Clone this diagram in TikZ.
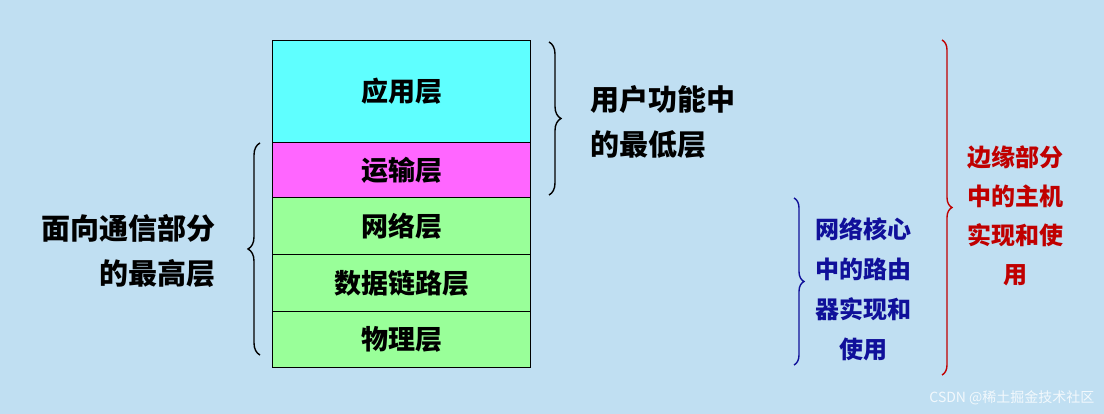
\documentclass[tikz,border=0pt]{standalone}
\usepackage{fontspec}
\setmainfont{Noto Sans CJK SC}
\usetikzlibrary{decorations.pathreplacing}
\definecolor{bg}{HTML}{C0DFF2}
\definecolor{cy}{HTML}{5FFFFF}
\definecolor{mg}{HTML}{FF66FF}
\definecolor{gr}{HTML}{99FF99}
\definecolor{db}{HTML}{10109A}
\definecolor{dr}{HTML}{C00000}
\begin{document}
\begin{tikzpicture}[x=1pt,y=-1pt,
  layer/.style={draw=black,line width=1pt,minimum width=258pt,anchor=north west,inner sep=0pt,font=\fontsize{27}{27}\selectfont\bfseries},
  lbl/.style={font=\fontsize{29}{45}\selectfont\bfseries,align=center,inner sep=0pt},
  br/.style={decorate,decoration={brace,amplitude=12pt},line width=1.4pt}]
\fill[bg] (0,0) rectangle (1104,414);
\useasboundingbox (0,0) rectangle (1104,414);
\node[layer,fill=cy,minimum height=102pt] (app) at (272,40) {应用层};
\node[layer,fill=mg,minimum height=55pt] (tr) at (272,142) {运输层};
\node[layer,fill=gr,minimum height=57pt] (net) at (272,197) {网络层};
\node[layer,fill=gr,minimum height=57pt] (dl) at (272,254) {数据链路层};
\node[layer,fill=gr,minimum height=56pt] (ph) at (272,311) {物理层};
\coordinate (r1) at (549,42); \coordinate (r2) at (549,195);
\draw[br] (r1) -- (r2);
\node[lbl,anchor=west,align=left] (t1) at (590,122) {用户功能中\\的最低层};
\coordinate (l1) at (260,355); \coordinate (l2) at (260,143);
\draw[br] (l1) -- (l2);
\node[lbl,anchor=east,align=right] (t2) at (216,251) {面向通信部分\\的最高层};
\coordinate (b1) at (794,198); \coordinate (b2) at (794,365);
\draw[br,draw=db,decoration={brace,amplitude=10pt}] (b1) -- (b2);
\node[lbl,text=db,font=\fontsize{24}{40}\selectfont\bfseries] (t3) at (863,289) {网络核心\\中的路由\\器实现和\\使用};
\coordinate (c1) at (942,40); \coordinate (c2) at (942,375);
\draw[br,draw=dr,decoration={brace,amplitude=10pt}] (c1) -- (c2);
\node[lbl,text=dr,font=\fontsize{24}{39}\selectfont\bfseries] (t4) at (1015,216) {边缘部分\\中的主机\\实现和使\\用};
\node[text=white,opacity=0.8,font=\fontsize{14}{14}\selectfont,anchor=south east] (wm) at (1098,408) {CSDN @稀土掘金技术社区};
\end{tikzpicture}
\end{document}
